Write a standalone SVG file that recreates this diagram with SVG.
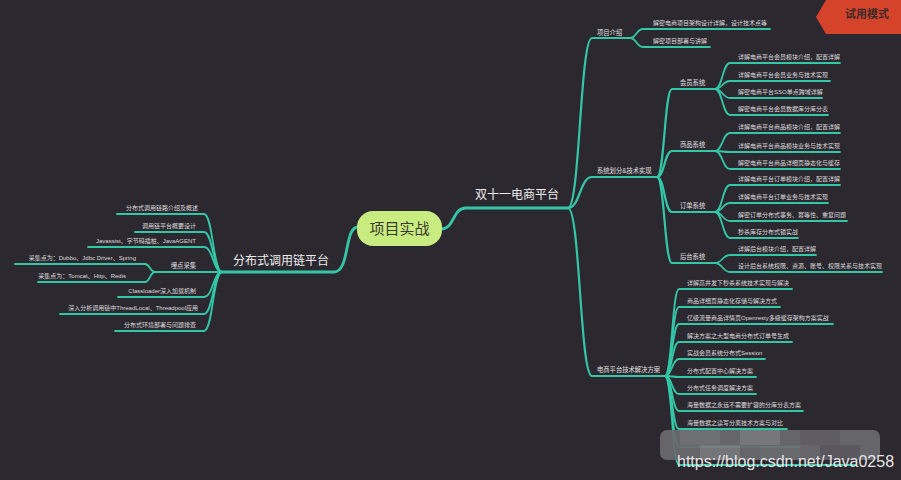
<svg xmlns="http://www.w3.org/2000/svg" width="901" height="480" viewBox="0 0 901 480">
<style>
.ln{fill:none;stroke:#33c7a7;stroke-width:1.8;stroke-linecap:round}
.lm{fill:none;stroke:#33c7a7;stroke-width:2.8;stroke-linecap:round}
.lc{fill:none;stroke:#33c7a7;stroke-width:2.2;stroke-linecap:round}
.t{font-family:"Liberation Sans","Noto Sans CJK SC",sans-serif;font-size:6px;fill:#dcdcdc}
.c{font-family:"Liberation Sans","Noto Sans CJK SC",sans-serif;font-size:6.3px;fill:#e2e2e2}
.e{text-anchor:end}
.big{font-family:"Noto Sans CJK SC","Liberation Sans",sans-serif;font-size:12px;fill:#ececec}
</style>
<rect x="0" y="0" width="901" height="480" fill="#2c2830"/>
<g id="connectors">
<path class="lm" d="M441 229 C455 229 452 208 466 208 L568 208"/>
<path class="lm" d="M358 227 C344 227 350 272 334 272 L222 272"/>
<path class="lc" d="M568 208 C580 208 580 38 592 38 L630 38"/>
<path class="lc" d="M568 208 C580 208 580 177 592 177 L657 177"/>
<path class="lc" d="M568 208 C580 208 580 376 592 376 L665 376"/>
<path class="ln" d="M630 38 C636.5 38 636.5 29 643 29 L770 29"/>
<path class="ln" d="M630 38 C636.5 38 636.5 47 643 47 L710 47"/>
<path class="lc" d="M657 177 C664.5 177 664.5 89 672 89 L715 89"/>
<path class="lc" d="M657 177 C664.5 177 664.5 151 672 151 L715 151"/>
<path class="lc" d="M657 177 C664.5 177 664.5 212 672 212 L715 212"/>
<path class="lc" d="M657 177 C664.5 177 664.5 263 672 263 L715 263"/>
<path class="ln" d="M715 89 C722.5 89 722.5 63 730 63 L840 63"/>
<path class="ln" d="M715 89 C722.5 89 722.5 81 730 81 L830 81"/>
<path class="ln" d="M715 89 C722.5 89 722.5 98 730 98 L822 98"/>
<path class="ln" d="M715 89 C722.5 89 722.5 115 730 115 L828 115"/>
<path class="ln" d="M715 151 C722.5 151 722.5 133 730 133 L840 133"/>
<path class="ln" d="M715 151 C722.5 151 722.5 152 730 152 L840 152"/>
<path class="ln" d="M715 151 C722.5 151 722.5 169 730 169 L840 169"/>
<path class="ln" d="M715 212 C722.5 212 722.5 185 730 185 L840 185"/>
<path class="ln" d="M715 212 C722.5 212 722.5 203 730 203 L828 203"/>
<path class="ln" d="M715 212 C722.5 212 722.5 221 730 221 L847 221"/>
<path class="ln" d="M715 212 C722.5 212 722.5 238 730 238 L798 238"/>
<path class="ln" d="M715 263 C722.5 263 722.5 255 730 255 L816 255"/>
<path class="ln" d="M715 263 C722.5 263 722.5 272 730 272 L882 272"/>
<path class="ln" d="M665 376 C672 376 672 289 679 289 L792 289"/>
<path class="ln" d="M665 376 C672 376 672 307 679 307 L780 307"/>
<path class="ln" d="M665 376 C672 376 672 324 679 324 L833 324"/>
<path class="ln" d="M665 376 C672 376 672 342 679 342 L792 342"/>
<path class="ln" d="M665 376 C672 376 672 359 679 359 L765 359"/>
<path class="ln" d="M665 376 C672 376 672 377 679 377 L756 377"/>
<path class="ln" d="M665 376 C672 376 672 394 679 394 L756 394"/>
<path class="ln" d="M665 376 C672 376 672 411 679 411 L803 411"/>
<path class="ln" d="M665 376 C672 376 672 429 679 429 L787 429"/>
<path class="ln" d="M665 376 C672 376 672 447 679 447 L800 447"/>
<path class="ln" d="M665 376 C672 376 672 465 679 465 L855 465"/>
<path class="ln" d="M222 272 C213 272 213 214 204 214 L117 214"/>
<path class="ln" d="M222 272 C213 272 213 232 204 232 L135 232"/>
<path class="ln" d="M222 272 C213 272 213 247 204 247 L88 247"/>
<path class="lc" d="M222 272 L155 272"/>
<path class="ln" d="M155 272 C150 272 150 264 145 264 L15 264"/>
<path class="ln" d="M155 272 C150 272 150 282 145 282 L38 282"/>
<path class="ln" d="M222 272 C213 272 213 297 204 297 L118 297"/>
<path class="ln" d="M222 272 C213 272 213 314 204 314 L60 314"/>
<path class="ln" d="M222 272 C213 272 213 331 204 331 L115 331"/>
</g>
<g id="root">
<rect x="357" y="211" width="85" height="35" rx="16" fill="#c8ec80"/>
<text x="399.5" y="234" text-anchor="middle" style="font-family:'Noto Sans CJK SC','Liberation Sans',sans-serif;font-size:15px;fill:#3a3a30">项目实战</text>
</g>
<g id="n-shuang11"><text class="big" x="475" y="199">双十一电商平台</text></g>
<g id="n-fenbushi"><text class="big" x="233" y="265">分布式调用链平台</text></g>
<g id="n-xiangmu"><text class="c" x="597" y="35">项目介绍</text></g>
<g id="n-xm1"><text class="t" x="653" y="25">解密电商项目架构设计详解，设计技术点等</text></g>
<g id="n-xm2"><text class="t" x="653" y="43">解密项目部署与讲解</text></g>
<g id="n-xitong"><text class="c" x="597" y="173">系统划分&amp;技术实现</text></g>
<g id="n-huiyuan"><text class="c" x="680" y="85">会员系统</text></g>
<g id="n-hy1"><text class="t" x="738" y="59">详解电商平台会员模块介绍，配置详解</text></g>
<g id="n-hy2"><text class="t" x="738" y="77">详解电商平台会员业务与技术实现</text></g>
<g id="n-hy3"><text class="t" x="738" y="94">解密电商平台SSO单点跨域详解</text></g>
<g id="n-hy4"><text class="t" x="738" y="111">解密电商平台会员数据库分库分表</text></g>
<g id="n-shangpin"><text class="c" x="680" y="147">商品系统</text></g>
<g id="n-sp1"><text class="t" x="738" y="129">详解电商平台商品模块介绍，配置详解</text></g>
<g id="n-sp2"><text class="t" x="738" y="148">详解电商平台商品模块业务与技术实现</text></g>
<g id="n-sp3"><text class="t" x="738" y="165">解密电商平台商品详细页静态化与缓存</text></g>
<g id="n-dingdan"><text class="c" x="680" y="208">订单系统</text></g>
<g id="n-dd1"><text class="t" x="738" y="181">详解电商平台订单模块介绍，配置详解</text></g>
<g id="n-dd2"><text class="t" x="738" y="199">详解电商平台订单业务与技术实现</text></g>
<g id="n-dd3"><text class="t" x="738" y="217">解密订单分布式事务、幂等性、重复问题</text></g>
<g id="n-dd4"><text class="t" x="738" y="234">秒杀库存分布式锁实战</text></g>
<g id="n-houtai"><text class="c" x="680" y="259">后台系统</text></g>
<g id="n-ht1"><text class="t" x="738" y="251">详解后台模块介绍，配置详解</text></g>
<g id="n-ht2"><text class="t" x="738" y="268">设计后台系统权限、资源、账号、权限关系与技术实现</text></g>
<g id="n-dianshang"><text class="c" x="597" y="372">电商平台技术解决方案</text></g>
<g id="n-ds1"><text class="t" x="687" y="285">详解高并发下秒杀系统技术实现与解决</text></g>
<g id="n-ds2"><text class="t" x="687" y="303">商品详细页静态化存储与解决方式</text></g>
<g id="n-ds3"><text class="t" x="687" y="320">亿级流量商品详情页Openresty多级缓存架构方案实战</text></g>
<g id="n-ds4"><text class="t" x="687" y="338">解决方案之大型电商分布式订单号生成</text></g>
<g id="n-ds5"><text class="t" x="687" y="355">实战会员系统分布式Session</text></g>
<g id="n-ds6"><text class="t" x="687" y="373">分布式配置中心解决方案</text></g>
<g id="n-ds7"><text class="t" x="687" y="390">分布式任务调度解决方案</text></g>
<g id="n-ds8"><text class="t" x="687" y="407">海量数据之永远不需要扩容的分库分表方案</text></g>
<g id="n-ds9"><text class="t" x="687" y="425">海量数据之读写分离技术方案与对比</text></g>
<g id="n-l1"><text class="t e" x="198" y="210">分布式调用链路介绍及概述</text></g>
<g id="n-l2"><text class="t e" x="196" y="228">调用链平台概要设计</text></g>
<g id="n-l3"><text class="t e" x="196" y="243">Javassist、字节码插桩、JavaAGENT</text></g>
<g id="n-maidian"><text class="c e" x="196" y="268">埋点采集</text></g>
<g id="n-md1"><text class="t e" x="136" y="260">采集点为：Dubbo、Jdbc Driver、Spring</text></g>
<g id="n-md2"><text class="t e" x="126" y="278">采集点为：Tomcat、Http、Redis</text></g>
<g id="n-l5"><text class="t e" x="196" y="293">Classloader深入加载机制</text></g>
<g id="n-l6"><text class="t e" x="198" y="310">深入分析调用链中ThreadLocal、Threadpool应用</text></g>
<g id="n-l7"><text class="t e" x="196" y="327">分布式环境部署与问题排查</text></g>
<g id="watermark">
<polygon points="826,0 901,0 901,34 826,34 816,17" fill="#d5432b"/>
<text x="845" y="18" style="font-family:'Noto Sans CJK SC',sans-serif;font-size:11px;font-weight:bold;fill:#3b2a2a">试用模式</text>
<g opacity="0.92">
<rect x="660" y="430" width="220" height="30" rx="7" fill="#6a6b6f"/>
<rect x="680" y="430" width="40" height="15" fill="#737679"/>
<rect x="740" y="430" width="40" height="15" fill="#7c7e82"/>
<rect x="800" y="430" width="40" height="15" fill="#646268"/>
<rect x="700" y="445" width="40" height="15" fill="#7a7c80"/>
<rect x="760" y="445" width="40" height="15" fill="#6e6f73"/>
<rect x="820" y="445" width="40" height="15" fill="#5e5c62"/>
</g>
<text x="677" y="467" style="font-family:'Liberation Sans',Arial,sans-serif;font-size:16px;fill:#e6e6e6">https://blog.csdn.net/Java0258</text>
</g>
</svg>
